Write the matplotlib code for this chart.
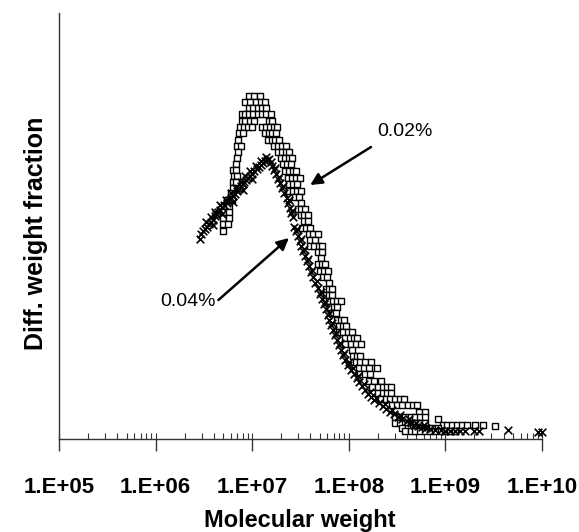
import numpy as np
import matplotlib
matplotlib.use('Agg')
import matplotlib.pyplot as plt
from matplotlib.ticker import FixedLocator, FixedFormatter, LogLocator, NullFormatter

plt.rcParams['font.family'] = ['Liberation Sans', 'DejaVu Sans']

# x ticks
decades = [1e5, 1e6, 1e7, 1e8, 1e9, 1e10]
tick_labels = ["1.E+05", "1.E+06", "1.E+07", "1.E+08", "1.E+09", "1.E+10"]

sq_rows_y = [3.43, 3.37, 3.31, 3.25, 3.18, 3.12, 3.06, 2.99,
             2.93, 2.87, 2.81, 2.75, 2.68, 2.61, 2.55, 2.48, 2.42,
             2.93, 2.87, 2.81, 2.75, 2.69, 2.63, 2.57, 2.51, 2.46, 2.39, 2.33, 2.27, 2.21, 2.15, 2.08,
             2.36, 2.30, 2.24, 2.18, 2.11, 2.05, 1.99, 1.93, 1.87, 1.81, 1.75, 1.68, 1.62, 1.56,
             1.50, 1.44, 1.38, 1.32, 1.26, 1.19, 1.13, 1.07, 1.01, 0.95, 0.89, 0.83, 0.77, 0.71,
             0.65, 0.58, 0.52, 0.46, 0.40, 0.34, 0.27, 0.22, 0.20, 0.16, 0.14, 0.13, 0.11, 0.08]
sq_rows_logm = [
    [6.97, 7.02, 7.08],
    [6.93, 6.98, 7.04, 7.09, 7.13],
    [6.97, 7.01, 7.06, 7.10, 7.14],
    [6.89, 6.93, 6.97, 7.01, 7.06, 7.10, 7.14, 7.19],
    [6.89, 6.93, 6.98, 7.02, 7.17, 7.21],
    [6.87, 6.91, 6.96, 7.00, 7.10, 7.14, 7.18, 7.23, 7.26],
    [6.86, 6.90, 7.13, 7.17, 7.21, 7.25],
    [6.85, 7.16, 7.20, 7.24, 7.28],
    # right branch
    [7.23, 7.27, 7.31, 7.35],
    [7.27, 7.31, 7.35, 7.38],
    [7.30, 7.34, 7.38, 7.41],
    [7.32, 7.36, 7.40],
    [7.34, 7.38, 7.42, 7.45],
    [7.37, 7.41, 7.45, 7.49],
    [7.38, 7.42, 7.46],
    [7.38, 7.42, 7.46, 7.50],
    [7.44, 7.48],
    # left branch
    [6.84, 6.88],
    [6.85],
    [6.84],
    [6.83],
    [6.80, 6.83],
    [6.81, 6.84],
    [6.80, 6.83],
    [6.80],
    [6.78],
    [6.74, 6.79],
    [6.71, 6.76],
    [6.70, 6.76],
    [6.70, 6.76],
    [6.70, 6.75],
    [6.70],
    # tail
    [7.50],
    [7.47, 7.51, 7.55],
    [7.50, 7.54, 7.58],
    [7.54, 7.58],
    [7.52, 7.56, 7.60],
    [7.59, 7.63, 7.68],
    [7.60, 7.65],
    [7.60, 7.64, 7.69, 7.72],
    [7.68, 7.72],
    [7.71],
    [7.68, 7.72, 7.75],
    [7.70, 7.74, 7.78],
    [7.73, 7.77],
    [7.80],
    [7.76, 7.80, 7.83],
    [7.76, 7.80, 7.83],
    [7.80, 7.84, 7.88, 7.92],
    [7.81, 7.85, 7.88],
    [7.83, 7.87],
    [7.88, 7.92, 7.95],
    [7.90, 7.94, 7.97],
    [7.90, 7.94, 7.99, 8.03],
    [7.96, 8.01, 8.05, 8.08],
    [7.96, 8.02, 8.07, 8.13],
    [8.03],
    [8.04, 8.08, 8.12],
    [8.07, 8.12, 8.17, 8.23],
    [8.11, 8.16, 8.21, 8.29],
    [8.12, 8.17, 8.22],
    [8.21, 8.26, 8.33],
    [8.24, 8.30, 8.35, 8.40, 8.44],
    [8.30, 8.35, 8.40, 8.44],
    [8.33, 8.38, 8.43, 8.48, 8.53, 8.57],
    [8.45, 8.50, 8.55, 8.61, 8.66, 8.71],
    [8.73, 8.79],
    [8.48, 8.53, 8.58, 8.64, 8.69, 8.74, 8.79],
    [8.92],
    [8.48, 8.53, 8.58, 8.64, 8.69, 8.74, 8.79],
    [8.97, 9.02, 9.07, 9.12, 9.17, 9.22, 9.31, 9.39],
    [9.51],
    [8.55, 8.61, 8.66, 8.71, 8.76, 8.81, 8.86, 8.92],
    [8.58, 8.64, 8.69, 8.74, 8.79, 8.84, 8.89, 8.95, 9.00, 9.05, 9.10],
]

# 0.04% series (crosses)
cr_logm = [6.46, 6.47, 6.49, 6.51, 6.53, 6.55, 6.57, 6.59, 6.61, 6.63, 6.65, 6.67,
           6.69, 6.71, 6.74, 6.76, 6.78, 6.80, 6.82, 6.84, 6.86, 6.88, 6.90, 6.92,
           6.94, 6.96, 6.98, 7.00, 7.02, 7.05, 7.07, 7.09, 7.11, 7.13, 7.15, 7.17,
           6.52, 6.57, 6.62, 6.67, 6.73, 6.78, 6.83, 6.88, 6.93, 6.98, 7.04, 7.09, 7.14,
           6.59, 6.69, 6.80, 6.90, 7.00,
           7.19, 7.21, 7.23, 7.25, 7.27, 7.29, 7.31, 7.33, 7.36, 7.37, 7.39, 7.40, 7.42,
           7.43, 7.45, 7.47, 7.49, 7.51, 7.53, 7.55, 7.57, 7.59, 7.61, 7.63, 7.65, 7.68,
           7.70, 7.72, 7.74, 7.76, 7.78, 7.80, 7.82, 7.84, 7.86, 7.88, 7.90, 7.92, 7.94,
           7.96, 7.99, 8.02, 8.05, 8.08, 8.11, 8.14, 8.17, 8.20, 8.23, 8.26, 8.31, 8.35,
           8.39, 8.43, 8.47, 8.51, 8.55, 8.60, 8.64, 8.68, 8.72, 8.76, 8.80, 8.84, 8.89,
           8.95, 9.00, 9.05, 9.10, 9.15, 9.20, 9.30, 9.35, 9.65, 9.96, 10.00,
           7.24, 7.28, 7.32, 7.38, 7.41, 7.46, 7.50, 7.54, 7.58, 7.62, 7.67, 7.71, 7.75,
           7.79, 7.83, 7.87, 7.91, 7.95, 8.00, 8.04, 8.10, 8.16, 8.22, 8.28, 8.37, 8.45,
           8.53, 8.62, 8.70, 8.78]
cr_y = [2.00, 2.05, 2.08, 2.10, 2.12, 2.15, 2.17, 2.19, 2.23, 2.25, 2.27, 2.29,
        2.32, 2.34, 2.36, 2.39, 2.41, 2.43, 2.45, 2.48, 2.50, 2.53, 2.55, 2.57,
        2.59, 2.61, 2.63, 2.65, 2.68, 2.70, 2.72, 2.74, 2.76, 2.78, 2.79, 2.80,
        2.17, 2.22, 2.27, 2.34, 2.39, 2.46, 2.51, 2.57, 2.63, 2.68, 2.73, 2.78, 2.82,
        2.14, 2.25, 2.37, 2.49, 2.60,
        2.77, 2.73, 2.69, 2.65, 2.60, 2.56, 2.51, 2.46, 2.41, 2.36, 2.31, 2.26, 2.22,
        2.12, 2.08, 2.03, 1.98, 1.93, 1.88, 1.83, 1.78, 1.73, 1.67, 1.62, 1.56, 1.51,
        1.45, 1.40, 1.35, 1.30, 1.24, 1.19, 1.14, 1.09, 1.04, 0.99, 0.94, 0.89, 0.84,
        0.79, 0.74, 0.69, 0.65, 0.61, 0.57, 0.53, 0.49, 0.45, 0.42, 0.39, 0.36, 0.33,
        0.30, 0.27, 0.25, 0.22, 0.20, 0.18, 0.16, 0.14, 0.13, 0.12, 0.11, 0.10, 0.09,
        0.09, 0.08, 0.08, 0.08, 0.08, 0.08, 0.08, 0.08, 0.09, 0.07, 0.07,
        2.71, 2.62, 2.53, 2.39, 2.28, 2.10, 2.00, 1.90, 1.80, 1.69, 1.58, 1.47, 1.37,
        1.26, 1.16, 1.06, 0.96, 0.86, 0.77, 0.71, 0.63, 0.55, 0.47, 0.41, 0.35, 0.29,
        0.24, 0.20, 0.16, 0.14]

sq_logm = np.concatenate([np.array(r) for r in sq_rows_logm])
sq_y = np.concatenate([np.full(len(r), yv) for r, yv in zip(sq_rows_logm, sq_rows_y)])

fig = plt.figure(figsize=(5.79, 5.32), dpi=100)
ax = fig.add_axes([59 / 579, 93 / 532, 483 / 579, 426 / 532])

ax.scatter(10 ** sq_logm, sq_y, marker='s', s=16, facecolors='white',
           edgecolors='black', linewidths=1.0, zorder=2)
ax.scatter(10 ** np.array(cr_logm), cr_y, marker='x', s=30, c='black',
           linewidths=1.2, zorder=3, clip_on=False)

ax.set_xscale('log')
ax.set_xlim(1e5, 1e10)
ax.set_ylim(0, 4.26)

for s in ['top', 'right']:
    ax.spines[s].set_visible(False)
for s in ['left', 'bottom']:
    ax.spines[s].set_linewidth(1.0)
    ax.spines[s].set_color('#333333')
ax.set_yticks([])

ax.xaxis.set_major_locator(FixedLocator(decades))
ax.xaxis.set_major_formatter(FixedFormatter(tick_labels))
ax.xaxis.set_minor_locator(LogLocator(base=10, subs=np.arange(1, 10), numticks=20))
ax.xaxis.set_minor_formatter(NullFormatter())
ax.xaxis.remove_overlapping_locs = False
ax.tick_params(axis='x', which='major', direction='out', length=8.5, width=1,
               color='#333333', pad=19, labelsize=16)
ax.tick_params(axis='x', which='minor', direction='in', length=4, width=0.8,
               color='#333333')
for lbl in ax.get_xticklabels():
    lbl.set_fontweight('bold')

fig.text(300 / 579, 1 - 521 / 532, "Molecular weight", ha='center', va='center',
         fontsize=17, fontweight='bold')
fig.text(36 / 579, 1 - 233 / 532, "Diff. weight fraction", ha='center', va='center',
         rotation=90, fontsize=18, fontweight='bold')

arrow = dict(arrowstyle='-|>,head_length=0.5,head_width=0.25', color='black',
             lw=1.8, mutation_scale=14, shrinkA=0, shrinkB=0)
ax.annotate('', xy=(10 ** 7.60, 2.54), xytext=(10 ** 8.23, 2.92), arrowprops=arrow)
ax.annotate('', xy=(10 ** 7.38, 2.01), xytext=(10 ** 6.65, 1.39), arrowprops=arrow)
ax.text(10 ** 8.29, 3.07, "0.02%", ha='left', va='center', fontsize=14)
ax.text(10 ** 6.62, 1.38, "0.04%", ha='right', va='center', fontsize=14)

fig.savefig('out.png', dpi=100)
